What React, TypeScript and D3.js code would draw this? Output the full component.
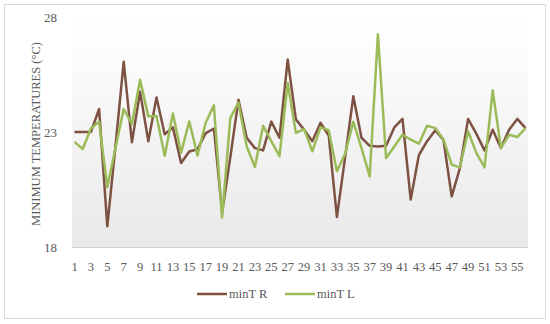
import React from "react";
import * as d3 from "d3";

const categories: number[] = d3.range(1, 57);
const minTR: number[] = [
  23.0, 23.0, 23.0, 24.0, 18.9, 22.4, 26.05, 22.55, 24.75, 22.6,
  24.5, 22.9, 23.2, 21.65, 22.15, 22.25, 22.95, 23.15, 19.5, 21.9,
  24.4, 22.75, 22.3, 22.2, 23.45, 22.75, 26.15, 23.55, 23.1, 22.6,
  23.4, 22.85, 19.3, 21.9, 24.55, 22.75, 22.4, 22.37, 22.4, 23.2,
  23.57, 20.06, 22.0, 22.6, 23.08, 22.65, 20.2, 21.43, 23.57, 22.93,
  22.2, 23.1, 22.3, 23.1, 23.57, 23.17,
];
const minTL: number[] = [
  22.57, 22.26, 23.15, 23.45, 20.6, 22.3, 24.0, 23.35, 25.27, 23.68,
  23.7, 21.97, 23.8, 22.1, 23.46, 21.98, 23.4, 24.16, 19.28, 23.6,
  24.28, 22.37, 21.48, 23.27, 22.6, 21.95, 25.13, 22.96, 23.13, 22.16,
  23.2, 23.08, 21.29, 22.05, 23.45, 22.3, 21.07, 27.25, 21.87, 22.37,
  22.88, 22.67, 22.49, 23.27, 23.17, 22.67, 21.58, 21.46, 23.03, 22.09,
  21.46, 24.81, 22.3, 22.88, 22.78, 23.17,
];
const yTicks: number[] = [18, 23, 28];
const seriesNames: string[] = ["minT R", "minT L"];
const seriesColors: string[] = ["#7d5242", "#9bbb59"];

const W = 550;
const H = 324;
const plot = { left: 72, right: 528, top: 17, bottom: 247 };

export default function App() {
  const x = d3
    .scalePoint<number>()
    .domain(categories)
    .range([74.5, 525.5]);
  const y = d3.scaleLinear().domain([18, 28]).range([plot.bottom, plot.top]);

  const line = d3
    .line<number>()
    .x((_, i) => x(categories[i]) as number)
    .y((d) => y(d));

  const series = [minTR, minTL];
  const font = "'Liberation Serif', 'DejaVu Serif', serif";
  const labelCats = categories.filter((c) => c % 2 === 1);

  const legendItems = [
    { x0: 197, name: seriesNames[0], color: seriesColors[0] },
    { x0: 285, name: seriesNames[1], color: seriesColors[1] },
  ];

  return (
    <svg
      width={W}
      height={H}
      style={{ position: "absolute", left: 0, top: 0, background: "#fff" }}
      fontFamily={font}
    >
      <defs>
        <linearGradient id="bgGrad" x1="0" y1="0" x2="0" y2="1">
          <stop offset="0" stopColor="#ffffff" />
          <stop offset="0.2" stopColor="#fbfbfb" />
          <stop offset="1" stopColor="#e9e9e9" />
        </linearGradient>
      </defs>
      <rect x={0} y={0} width={W} height={H} fill="#fff" />
      <rect
        x={4.5}
        y={4.5}
        width={541}
        height={314}
        fill="none"
        stroke="#d9d9d9"
        strokeWidth={1}
      />
      <rect
        x={plot.left}
        y={plot.top}
        width={plot.right - plot.left}
        height={plot.bottom - plot.top}
        fill="url(#bgGrad)"
      />
      <line
        x1={plot.left}
        x2={plot.right}
        y1={plot.bottom + 0.5}
        y2={plot.bottom + 0.5}
        stroke="#d0d0d0"
        strokeWidth={1}
      />
      {yTicks.map((t) => (
        <text
          key={t}
          x={57}
          y={y(t)}
          dy="0.35em"
          textAnchor="end"
          fontSize={13}
          fill="#595959"
        >
          {t}
        </text>
      ))}
      {labelCats.map((c) => (
        <text
          key={c}
          x={x(c) as number}
          y={271}
          textAnchor="middle"
          fontSize={12.5}
          fill="#595959"
        >
          {c}
        </text>
      ))}
      <text
        transform={`translate(36, ${(plot.top + plot.bottom) / 2 + 2}) rotate(-90)`}
        textAnchor="middle"
        dy="0.35em"
        fontSize={12.5}
        fill="#595959"
      >
        MINIMUM TEMPERATURES (°C)
      </text>
      {series.map((s, k) => (
        <path
          key={k}
          d={line(s) || ""}
          fill="none"
          stroke={seriesColors[k]}
          strokeWidth={2.5}
          strokeLinejoin="round"
        />
      ))}
      {legendItems.map((it) => (
        <g key={it.name}>
          <line
            x1={it.x0}
            x2={it.x0 + 30}
            y1={294}
            y2={294}
            stroke={it.color}
            strokeWidth={2.5}
          />
          <text
            x={it.x0 + 32}
            y={294}
            dy="0.35em"
            fontSize={12.5}
            fill="#595959"
          >
            {it.name}
          </text>
        </g>
      ))}
    </svg>
  );
}
